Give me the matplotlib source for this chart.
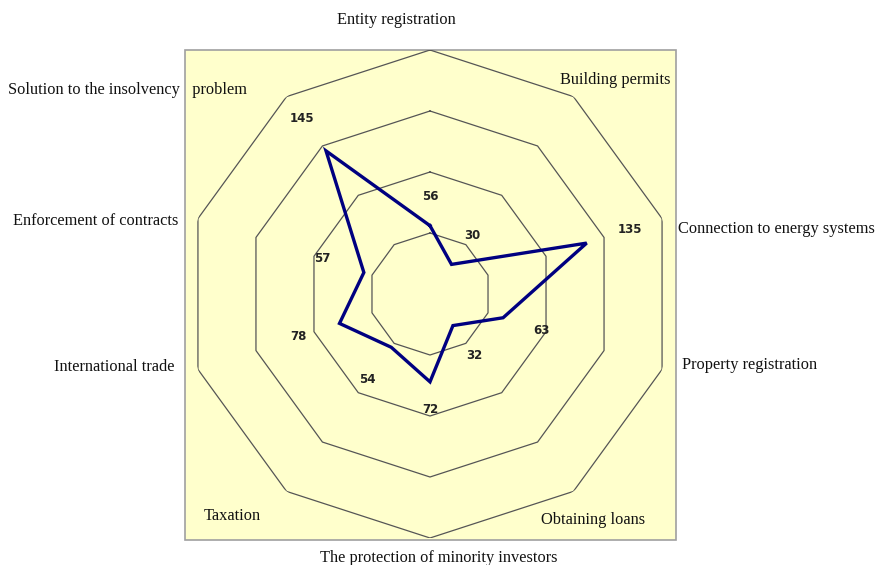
import numpy as np
import matplotlib
matplotlib.use("Agg")
import matplotlib.pyplot as plt
from matplotlib.patches import Rectangle

categories = ["Entity registration", "Building permits", "Connection to energy systems",
              "Property registration", "Obtaining loans", "The protection of minority investors",
              "Taxation", "International trade", "Enforcement of contracts",
              "Solution to the insolvency   problem"]
values = [56, 30, 135, 63, 32, 72, 54, 78, 57, 145]
ring_levels = [50, 100, 150, 200]

# radial offset of each data label beyond its point (data units)
label_offsets = [24, 29, 37, 33, 30, 23, 33, 35, 36, 33]

W, H = 875, 565
fig = plt.figure(figsize=(W / 100, H / 100), dpi=100)
fig.patch.set_facecolor("white")

# yellow plot-area rectangle
fig.add_artist(Rectangle((185 / W, 1 - 540 / H), 491 / W, 490 / H, transform=fig.transFigure,
                         facecolor="#FFFFCC", edgecolor="#a0a0a0", lw=1.2, zorder=0))

cx, cy, R = 430, 294, 244
ax = fig.add_axes([(cx - R) / W, 1 - (cy + R) / H, 2 * R / W, 2 * R / H], projection="polar")
ax.set_facecolor("none")
ax.set_theta_zero_location("N")
ax.set_theta_direction(-1)
ax.set_ylim(0, 200)
ax.grid(False)
ax.set_xticks([])
ax.set_yticks([])
ax.spines["polar"].set_visible(False)

n = len(categories)
theta = np.arange(n) * 2 * np.pi / n
theta_c = np.append(theta, theta[0])

for lvl in ring_levels:
    ax.plot(theta_c, [lvl] * (n + 1), color="#555555", lw=0.9, zorder=2)

vals_c = values + values[:1]
ax.plot(theta_c, vals_c, color="#000080", lw=2.4, zorder=4, solid_joinstyle="miter")

for t, v, off in zip(theta, values, label_offsets):
    ax.text(t, v + off, str(v), ha="center", va="center", fontsize=8.5, fontweight="bold",
            color="#222222", family="DejaVu Sans", zorder=5)

# category labels
serif = dict(family="Liberation Serif", fontsize=11.8, color="#111111")
label_pos = [
    (396, 20, "center"),
    (560, 80, "left"),
    (678, 229, "left"),
    (682, 365, "left"),
    (541, 520, "left"),
    (439, 558, "center"),
    (204, 516, "left"),
    (175, 367, "right"),
    (178, 221, "right"),
    (8, 90, "left"),
]
for (x, y, ha), lab in zip(label_pos, categories):
    fig.text(x / W, 1 - y / H, lab, ha=ha, va="center", **serif)

fig.savefig("out.png", dpi=100)
